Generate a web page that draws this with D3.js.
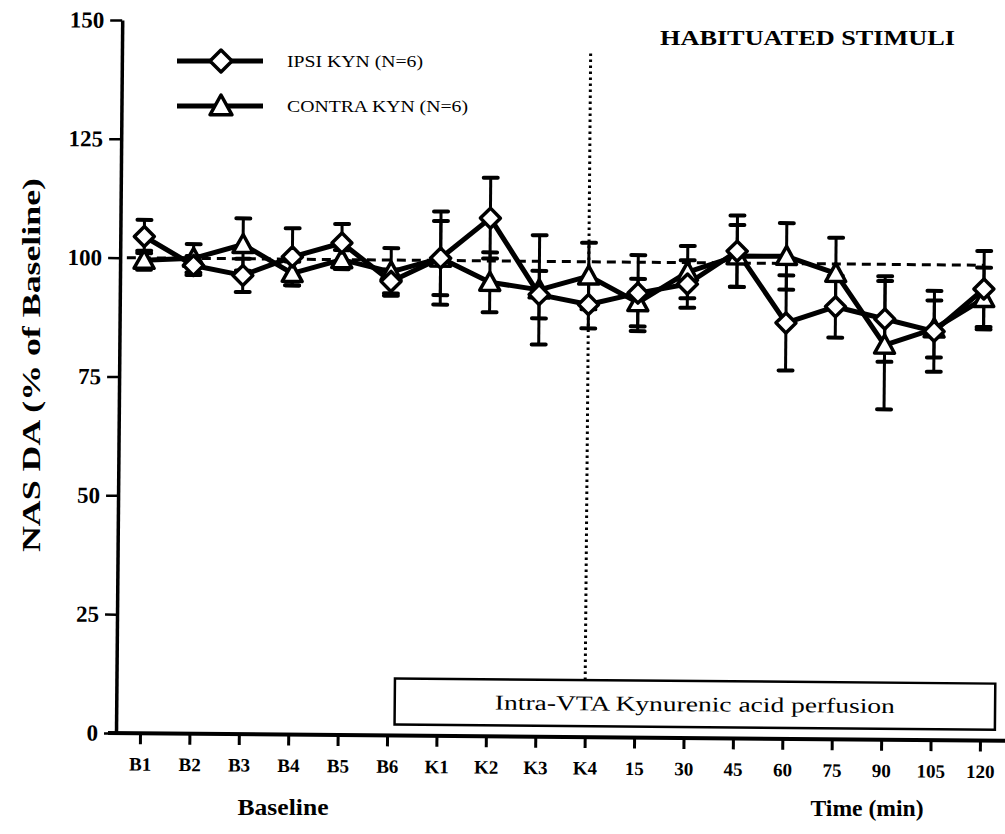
<!DOCTYPE html>
<html>
<head>
<meta charset="utf-8">
<script src="https://cdn.jsdelivr.net/npm/d3@7"></script>
<style>
  body { margin: 0; background: #fff; }
  svg { display: block; }
  text { font-family: "Liberation Serif", "DejaVu Serif", serif; fill: #000; }
</style>
</head>
<body>
<figure style="margin:0"></figure>
<script>
const categories = ["B1", "B2", "B3", "B4", "B5", "B6", "K1", "K2", "K3", "K4",
  "15", "30", "45", "60", "75", "90", "105", "120"];
const ipsiMean = [104.5, 98.5, 96.5, 100.5, 103.5, 95.5, 100.5, 109, 93, 91,
  93.5, 95.5, 102.5, 87.5, 91, 88.5, 86, 95];
const ipsiErr = [3.5, 2, 3.5, 6, 4, 2.5, 9.8, 8.5, 5, 5, 8, 5, 7.5, 10, 6.5, 9, 8.5, 8];
const contraMean = [99.5, 100, 103, 97, 100, 97.5, 100.5, 95.5, 94, 97,
  91.5, 98, 101.5, 101.5, 98, 83, 86.5, 93];
const contraErr = [2, 3, 5.5, 2.5, 2, 5, 7.8, 6.3, 11.5, 7, 5, 5.5, 6.5, 7, 7.5, 13.5, 6, 6.5];
const yTicks = [0, 25, 50, 75, 100, 125, 150];
const seriesNames = ["IPSI KYN (N=6)", "CONTRA KYN (N=6)"];

const width = 1005;
const height = 834;

const diamond = (r) => `M0,${-r}L${r},0L0,${r}L${-r},0Z`;
const triangle = (r) => `M0,${-r}L${r},${r * 0.8}L${-r},${r * 0.8}Z`;

const draw = () => {
  const svg = d3.select("figure").append("svg")
    .attr("width", width).attr("height", height);

  const x = d3.scalePoint().domain(categories).range([140, 980]);
  const y = d3.scaleLinear().domain([0, 150]).range([733, 20]);
  const step = x.step();

  // the scanned figure is tilted slightly clockwise
  const g = svg.append("g").attr("transform", `rotate(0.5, 116, ${y(0)})`);

  // y axis
  const yAxis = g.append("g")
    .attr("transform", "translate(116,0)")
    .call(d3.axisLeft(y).tickValues(yTicks).tickSize(12).tickSizeOuter(0).tickPadding(6));
  yAxis.select(".domain").attr("stroke-width", 3.5);
  yAxis.selectAll(".tick line").attr("stroke-width", 2.5);
  yAxis.selectAll(".tick text")
    .attr("font-size", 23).attr("font-weight", "bold")
    .style("font-family", "Liberation Serif");

  // x axis
  const xAxis = g.append("g")
    .attr("transform", `translate(0,${y(0)})`)
    .call(d3.axisBottom(x).tickSize(11).tickSizeOuter(0).tickPadding(13));
  xAxis.select(".domain").remove();
  xAxis.selectAll(".tick line").attr("stroke-width", 3);
  xAxis.selectAll(".tick text")
    .attr("font-size", 19).attr("font-weight", "bold")
    .style("font-family", "Liberation Serif");
  g.append("line")
    .attr("x1", 108).attr("x2", 1010)
    .attr("y1", y(0)).attr("y2", y(0))
    .attr("stroke", "#000").attr("stroke-width", 4);

  // perfusion box
  const boxLeft = x("B6") + step * 0.15;
  const boxRight = x("120") + step * 0.3;
  g.append("rect")
    .attr("x", boxLeft).attr("y", y(12))
    .attr("width", boxRight - boxLeft).attr("height", y(2.3) - y(12))
    .attr("fill", "#fff").attr("stroke", "#000").attr("stroke-width", 2.5);
  g.append("text")
    .attr("x", (boxLeft + boxRight) / 2).attr("y", y(7.1) + 7)
    .attr("text-anchor", "middle").attr("font-size", 21)
    .attr("textLength", 400).attr("lengthAdjust", "spacingAndGlyphs")
    .text("Intra-VTA Kynurenic acid perfusion");

  // dotted line at K4
  g.append("line")
    .attr("x1", x("K4")).attr("x2", x("K4"))
    .attr("y1", y(12)).attr("y2", y(144.5))
    .attr("stroke", "#000").attr("stroke-width", 3)
    .attr("stroke-dasharray", "2.5,3.5");

  // baseline reference
  g.append("line")
    .attr("x1", x("B1") - step * 0.35).attr("x2", x("120"))
    .attr("y1", y(100)).attr("y2", y(100))
    .attr("stroke", "#000").attr("stroke-width", 3)
    .attr("stroke-dasharray", "9,6");

  const series = [
    { name: seriesNames[0], mean: ipsiMean, err: ipsiErr, shape: diamond(10) },
    { name: seriesNames[1], mean: contraMean, err: contraErr, shape: triangle(10) },
  ];

  series.forEach((s) => {
    const pts = categories.map((c, i) => ({ c, m: s.mean[i], e: s.err[i] }));
    const bars = g.append("g").selectAll("g").data(pts).join("g")
      .attr("transform", (d) => `translate(${x(d.c)},0)`);
    bars.append("line")
      .attr("y1", (d) => y(d.m - d.e)).attr("y2", (d) => y(d.m + d.e))
      .attr("stroke", "#000").attr("stroke-width", 3);
    [-1, 1].forEach((sgn) => {
      bars.append("line")
        .attr("x1", -7).attr("x2", 7)
        .attr("y1", (d) => y(d.m + sgn * d.e)).attr("y2", (d) => y(d.m + sgn * d.e))
        .attr("stroke", "#000").attr("stroke-width", 4).attr("stroke-linecap", "round");
    });
  });

  const line = d3.line().x((d) => x(d.c)).y((d) => y(d.m));
  series.forEach((s) => {
    const pts = categories.map((c, i) => ({ c, m: s.mean[i] }));
    g.append("path").datum(pts)
      .attr("d", line)
      .attr("fill", "none").attr("stroke", "#000")
      .attr("stroke-width", 5).attr("stroke-linejoin", "round");
  });
  series.slice().reverse().forEach((s) => {
    const pts = categories.map((c, i) => ({ c, m: s.mean[i] }));
    g.append("g").selectAll("path").data(pts).join("path")
      .attr("transform", (d) => `translate(${x(d.c)},${y(d.m)})`)
      .attr("d", s.shape)
      .attr("fill", "#fff").attr("stroke", "#000").attr("stroke-width", 3.5)
      .attr("stroke-linejoin", "round");
  });

  // axis titles
  svg.append("text")
    .attr("transform", "translate(40,365) rotate(-90)")
    .attr("text-anchor", "middle").attr("font-size", 25).attr("font-weight", "bold")
    .attr("textLength", 374).attr("lengthAdjust", "spacingAndGlyphs")
    .text("NAS DA (% of Baseline)");
  svg.append("text")
    .attr("x", 283).attr("y", 815)
    .attr("text-anchor", "middle").attr("font-size", 23).attr("font-weight", "bold")
    .attr("textLength", 91).attr("lengthAdjust", "spacingAndGlyphs")
    .text("Baseline");
  svg.append("text")
    .attr("x", 867).attr("y", 816)
    .attr("text-anchor", "middle").attr("font-size", 23).attr("font-weight", "bold")
    .attr("textLength", 113).attr("lengthAdjust", "spacingAndGlyphs")
    .text("Time (min)");

  svg.append("text")
    .attr("x", 660).attr("y", 45)
    .attr("font-size", 22).attr("font-weight", "bold")
    .attr("textLength", 295).attr("lengthAdjust", "spacingAndGlyphs")
    .text("HABITUATED STIMULI");

  // legend
  const legendRows = [
    { y: 61, shape: diamond(11), w: 136 },
    { y: 106, shape: triangle(11), w: 181 },
  ];
  const legend = svg.append("g").selectAll("g").data(legendRows).join("g")
    .attr("transform", (d) => `translate(0,${d.y})`);
  legend.append("line")
    .attr("x1", 177).attr("x2", 263)
    .attr("stroke", "#000").attr("stroke-width", 5);
  legend.append("path")
    .attr("transform", "translate(221,0)")
    .attr("d", (d) => d.shape)
    .attr("fill", "#fff").attr("stroke", "#000").attr("stroke-width", 3.5)
    .attr("stroke-linejoin", "round");
  legend.append("text")
    .attr("x", 287).attr("y", 6)
    .attr("font-size", 16)
    .attr("textLength", (d) => d.w).attr("lengthAdjust", "spacingAndGlyphs")
    .text((d, i) => seriesNames[i]);
};

window.onload = draw;
</script>
</body>
</html>
